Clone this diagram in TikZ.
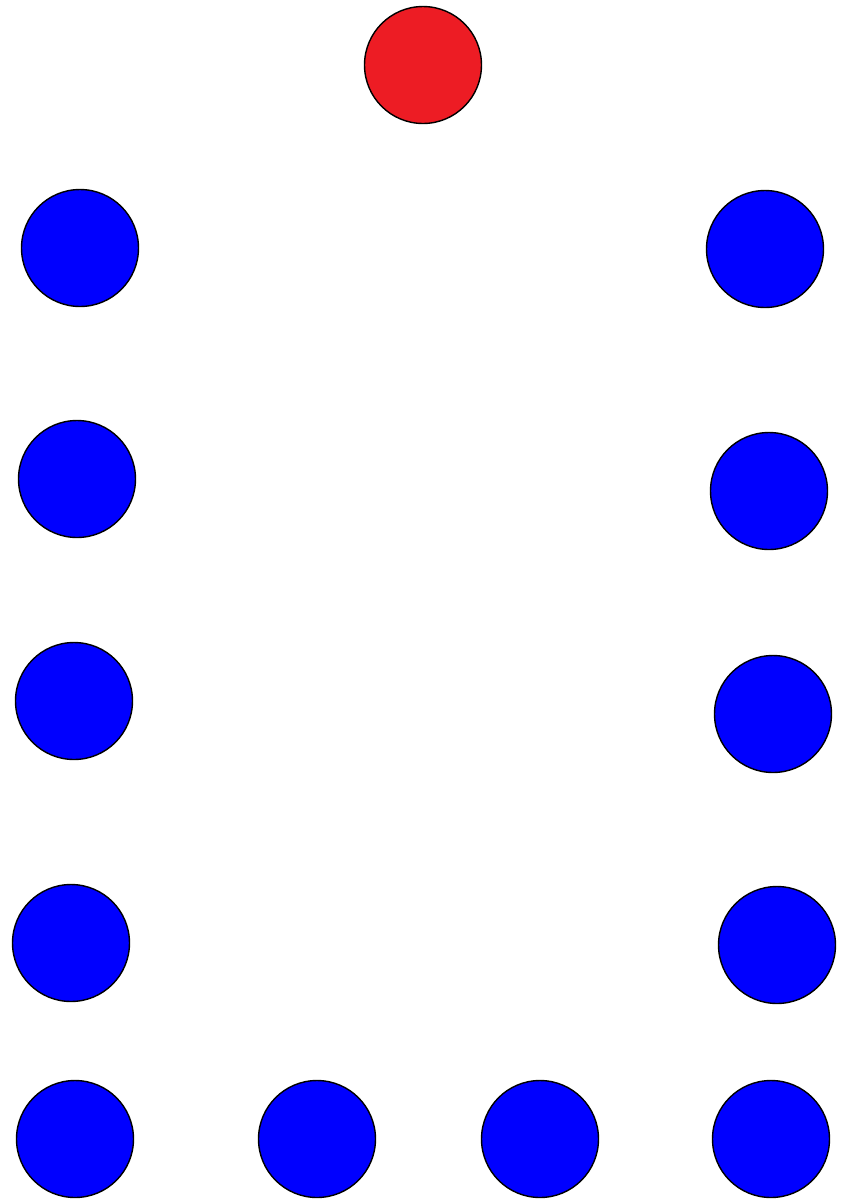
\documentclass[tikz,border=0pt]{standalone}
\usepackage{tikz}
\usetikzlibrary{shapes.geometric}
\definecolor{dotred}{HTML}{ED1C24}
\definecolor{dotblue}{HTML}{0000FF}

\begin{document}
\begin{tikzpicture}[x=0.02cm, y=-0.02cm]
\tikzstyle{dot}=[circle, draw=black, line width=0.8pt, minimum size=2.34cm, inner sep=0pt]
\tikzstyle{bdot}=[dot, fill=dotblue]
\useasboundingbox (0,0) rectangle (847,1201);
\node[dot, fill=dotred] (R) at (423,65) {};
% left column
\node[bdot] (L1) at (80,248) {};
\node[bdot] (L2) at (77,479) {};
\node[bdot] (L3) at (74,701) {};
\node[bdot] (L4) at (71,943) {};
\node[bdot] (L5) at (75,1139) {};
% bottom row
\node[bdot] (B1) at (317,1139) {};
\node[bdot] (B2) at (540,1139) {};
% right column
\node[bdot] (R5) at (771,1139) {};
\node[bdot] (R4) at (777,945) {};
\node[bdot] (R3) at (773,714) {};
\node[bdot] (R2) at (769,491) {};
\node[bdot] (R1) at (765,249) {};
\end{tikzpicture}
\end{document}
